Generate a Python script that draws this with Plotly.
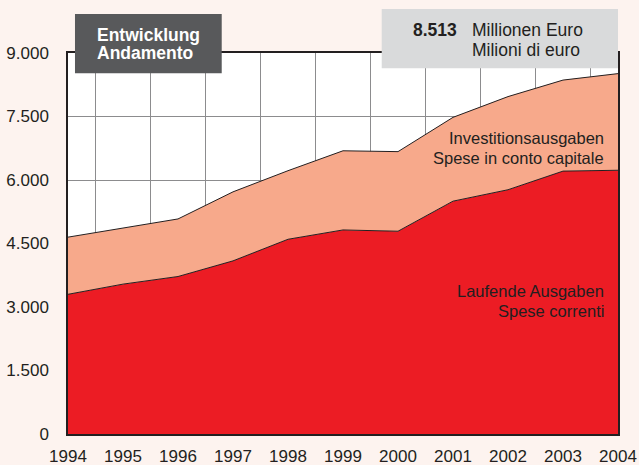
import plotly.graph_objects as go

years = [1994, 1995, 1996, 1997, 1998, 1999, 2000, 2001, 2002, 2003, 2004]
laufende = [3300, 3540, 3720, 4090, 4600, 4820, 4790, 5500, 5770, 6210, 6230]
investition = [1350, 1330, 1360, 1630, 1620, 1870, 1880, 1980, 2200, 2150, 2283]
y_ticks = [0, 1500, 3000, 4500, 6000, 7500, 9000]
grid_x = [1994.5, 1995.5, 1996.5, 1997.5, 1998.5, 1999.5, 2000.5, 2001.5, 2002.5, 2003.5]

RED = "#ec1c24"
SALMON = "#f7a98b"
DARK = "#231f20"
BG = "#fdf3ef"
FONT = "Liberation Sans, Arial, sans-serif"

fig = go.Figure()
fig.add_trace(go.Scatter(x=years, y=laufende, mode="lines", stackgroup="one",
                         line=dict(color=DARK, width=1), fillcolor=RED,
                         name="Laufende Ausgaben", hoverinfo="x+y"))
fig.add_trace(go.Scatter(x=years, y=investition, mode="lines", stackgroup="one",
                         line=dict(color=DARK, width=1), fillcolor=SALMON,
                         name="Investitionsausgaben", hoverinfo="x+y"))

fig.update_layout(
    width=639, height=465,
    margin=dict(l=68, r=21, t=53, b=31, autoexpand=False),
    paper_bgcolor=BG, plot_bgcolor="white",
    showlegend=False,
    separators=",.",
    font=dict(family=FONT, color=DARK, size=17),
    xaxis=dict(range=[1994, 2004], tickvals=years, ticktext=[str(y) for y in years],
               automargin=False,
               showgrid=False, zeroline=False, showline=True, linecolor=DARK, linewidth=1.5,
               mirror=True, ticks="", ticklabelstandoff=6,
               tickfont=dict(size=17, family=FONT, color=DARK),
               minor=dict(tickvals=grid_x, showgrid=True, gridcolor="#8c8c8e", gridwidth=1, ticks="")),
    yaxis=dict(range=[0, 9000], tickvals=y_ticks, tickformat=",d", automargin=False,
               showgrid=True, gridcolor="#8c8c8e", gridwidth=1, zeroline=False,
               showline=True, linecolor=DARK, linewidth=1.5, mirror=True, ticks="",
               ticklabelstandoff=14, tickfont=dict(size=17, family=FONT, color=DARK)),
)

fig.add_shape(type="rect", xref="paper", yref="paper", x0=0.0127, x1=0.2795, y0=0.9467, y1=1.1024,
              fillcolor="#58595b", line=dict(width=0), layer="above")
fig.add_shape(type="rect", xref="paper", yref="paper", x0=0.5704, x1=1.0, y0=0.9598, y1=1.1155,
              fillcolor="#d9dadb", line=dict(width=0), layer="above")


def label(x, y, text, xanchor, size, color=DARK):
    fig.add_annotation(xref="paper", yref="paper", x=x, y=y, xanchor=xanchor, yanchor="middle",
                       showarrow=False, text=text,
                       font=dict(size=size, color=color, family=FONT))


label(0.0491, 1.046, "<b>Entwicklung</b>", "left", 17.5, "white")
label(0.0491, 0.9987, "<b>Andamento</b>", "left", 17.5, "white")
label(0.7115, 1.0609, "<b>8.513</b>", "right", 17.5)
label(0.7309, 1.0609, "Millionen Euro", "left", 17.5)
label(0.7309, 1.0084, "Milioni di euro", "left", 17.5)
label(0.978, 0.7761, "Investitionsausgaben", "right", 16.5)
label(0.978, 0.7252, "Spese in conto capitale", "right", 16.5)
label(0.978, 0.3745, "Laufende Ausgaben", "right", 16.5)
label(0.978, 0.322, "Spese correnti", "right", 16.5)

fig.write_html("out.html", config={"displayModeBar": False},
               post_script="document.body.style.margin='0';document.body.style.background='%s';" % BG)
